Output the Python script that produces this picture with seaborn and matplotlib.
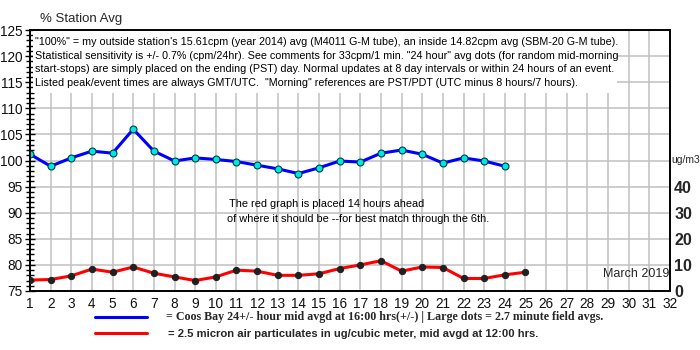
import matplotlib
matplotlib.use("Agg")
import matplotlib.pyplot as plt
from matplotlib.lines import Line2D
from matplotlib.patches import Rectangle
from matplotlib.ticker import MultipleLocator, FixedLocator
import seaborn as sns
import pandas as pd

# ---- data ----
blue_days = list(range(1, 25))
blue_pct = [101.2, 98.9, 100.5, 101.8, 101.4, 106.0, 101.8, 99.9, 100.5, 100.2,
            99.8, 99.1, 98.4, 97.5, 98.6, 99.9, 99.7, 101.4, 102.0, 101.2,
            99.5, 100.5, 99.9, 98.9]
red_days = list(range(1, 26))
red_ugm3 = [4.2, 4.4, 5.8, 8.4, 7.2, 9.2, 6.8, 5.4, 4.0, 5.4,
            8.0, 7.6, 6.0, 6.0, 6.6, 8.6, 10.0, 11.6, 7.6, 9.2,
            9.0, 4.8, 4.8, 6.2, 7.2]
x_ticks = list(range(1, 33))
left_ticks = list(range(75, 126, 5))
right_ticks = [0, 10, 20, 30, 40]

info_lines = [
    '"100%" = my outside station\'s 15.61cpm (year 2014) avg (M4011 G-M tube), an inside 14.82cpm avg (SBM-20 G-M tube).',
    'Statistical sensitivity is +/- 0.7% (cpm/24hr). See comments for 33cpm/1 min. "24 hour" avg dots (for random mid-morning',
    'start-stops) are simply placed on the ending (PST) day. Normal updates at 8 day intervals or within 24 hours of an event.',
    'Listed peak/event times are always GMT/UTC.  "Morning" references are PST/PDT (UTC minus 8 hours/7 hours).',
]
note_lines = ["The red graph is placed 14 hours ahead",
              "of where it should be --for best match through the 6th."]
legend_blue = "= Coos Bay 24+/- hour mid avgd at 16:00 hrs(+/-) | Large dots = 2.7 minute field avgs."
legend_red = "= 2.5 micron air particulates in ug/cubic meter, mid avgd at 12:00 hrs."

sns.set_style("white")
plt.rcParams['font.family'] = ['Liberation Sans', 'DejaVu Sans']

W, H = 700, 350
fig = plt.figure(figsize=(7, 3.5), dpi=100)
fig.patch.set_facecolor("white")

def fx(x):
    return x / W

def fy(y):
    return 1 - y / H

ax = fig.add_axes([fx(30), fy(291), fx(670) - fx(30), fy(30) - fy(291)])
ax2 = ax.twinx()

df_b = pd.DataFrame({"day": blue_days, "pct": blue_pct})
df_r = pd.DataFrame({"day": red_days, "ug": red_ugm3})

sns.lineplot(data=df_b, x="day", y="pct", ax=ax, color="#0000ff", linewidth=2.2,
             marker="o", markersize=5, markerfacecolor="#00e5e5",
             markeredgecolor="#004040", markeredgewidth=0.8, zorder=4)
sns.lineplot(data=df_r, x="day", y="ug", ax=ax2, color="#ff0000", linewidth=2.2,
             marker="o", markersize=4.5, markerfacecolor="#202020",
             markeredgecolor="#202020", zorder=4)

ax.set_xlim(1, 32)
ax.set_ylim(75, 125)
ax2.set_ylim(0, 100)

ax.set_xlabel("")
ax.set_ylabel("")
ax2.set_xlabel("")
ax2.set_ylabel("")

ax.xaxis.set_major_locator(FixedLocator(x_ticks))
ax.xaxis.set_minor_locator(MultipleLocator(0.25))
ax.yaxis.set_major_locator(FixedLocator(left_ticks))
ax.yaxis.set_minor_locator(MultipleLocator(1))
ax.set_xticklabels([str(v) for v in x_ticks])
ax.set_yticklabels([str(v) for v in left_ticks])

ax.grid(True, which="major", color="#c0c0c0", linewidth=1.1)
ax.set_axisbelow(True)
ax2.grid(False)

ax.tick_params(axis="both", which="major", direction="inout", length=7, width=1,
               color="black", labelsize=9.8, pad=2, labelcolor="#111111")
ax.tick_params(axis="both", which="minor", direction="inout", length=6, width=1,
               color="black")
ax.tick_params(axis="x", which="major", pad=1)

ax2.yaxis.set_major_locator(FixedLocator(right_ticks))
ax2.set_yticklabels([str(v) for v in right_ticks], fontweight="bold")
ax2.tick_params(axis="y", which="major", length=0, labelsize=11.5, pad=3)
ax2.tick_params(axis="y", which="minor", length=0)

for a in (ax, ax2):
    for s in a.spines.values():
        s.set_visible(True)
        s.set_color("black")
        s.set_linewidth(1.2)

# white info box covering grid
ax.add_patch(Rectangle((fx(33), fy(93)), fx(617) - fx(33), fy(31) - fy(93),
                       transform=fig.transFigure, facecolor="white",
                       edgecolor="none", zorder=1))
for i, line in enumerate(info_lines):
    fig.text(fx(35), fy(42 + i * 13.6), line, fontsize=7.75, va="center",
             ha="left", color="black", zorder=5)

for i, line in enumerate(note_lines):
    fig.text(fx(229 - 2 * i), fy(204 + 14.5 * i), line, fontsize=7.9,
             va="center", ha="left", color="black")

fig.text(fx(40), fy(19), "% Station Avg", fontsize=9.5, va="center", ha="left")
fig.text(fx(671), fy(160), "ug/m3", fontsize=7.5, va="center", ha="left")
fig.text(fx(669), fy(274), "March 2019", fontsize=9, va="center", ha="right")

# legend
fig.add_artist(Line2D([fx(95), fx(147)], [fy(317), fy(317)], color="#0000ff",
                      linewidth=2.2, transform=fig.transFigure))
fig.add_artist(Line2D([fx(95), fx(147)], [fy(333), fy(333)], color="#ff0000",
                      linewidth=2.2, transform=fig.transFigure))
fig.text(fx(166), fy(317), legend_blue, fontsize=8.65, fontweight="bold",
         family=["Liberation Serif", "DejaVu Serif"], va="center", ha="left")
fig.text(fx(168), fy(334), legend_red, fontsize=8.1, fontweight="bold",
         va="center", ha="left")

fig.savefig("out.png", dpi=100, facecolor="white")
